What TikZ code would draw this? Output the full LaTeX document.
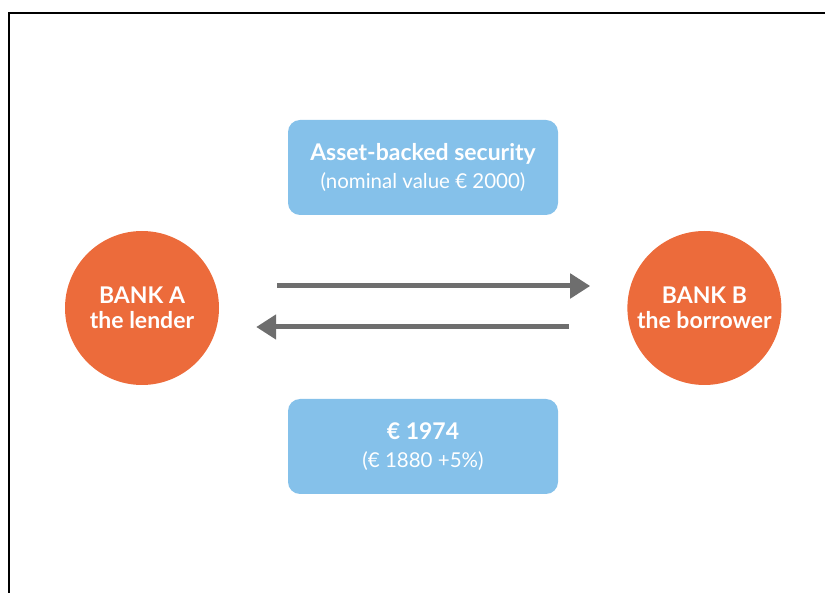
\documentclass[tikz,border=0pt]{standalone}
\usepackage{fontspec}
\setmainfont{Lato}
\usepackage{tikz}
\usetikzlibrary{arrows.meta,positioning}
\usepackage{xcolor}
\definecolor{bankorange}{HTML}{EC6B3B}
\definecolor{boxblue}{HTML}{85C1EA}
\definecolor{arrowgray}{HTML}{6E6E6E}

\begin{document}
\begin{tikzpicture}[x=1pt, y=1pt, >={Triangle[length=20pt,width=24pt]}, every node/.style={align=center, text=white}]
  \useasboundingbox (0,0) rectangle (825,592);
  \draw[line width=2pt] (8.5,-10) |- (840,579);
  \node[circle,fill=bankorange,minimum size=154pt,inner sep=0pt,font=\fontsize{23}{25}\selectfont\bfseries] (a) at (142,284) {BANK A\\the lender};
  \node[circle,fill=bankorange,minimum size=154pt,inner sep=0pt,font=\fontsize{23}{25}\selectfont\bfseries,right=408pt of a] (b) {BANK B\\the borrower};
  \node[rounded corners=12pt,fill=boxblue,minimum width=270pt,minimum height=95pt,font=\fontsize{20}{28}\selectfont] (sec) at (423,424.5) {{\fontsize{23}{28}\selectfont\bfseries Asset-backed security}\\{\fontsize{20.5}{28}\selectfont (nominal value € 2000)}};
  \node[rounded corners=12pt,fill=boxblue,minimum width=270pt,minimum height=95pt,font=\fontsize{20}{28}\selectfont] (cash) at (423,145.5) {{\fontsize{23}{28}\selectfont\bfseries € 1974}\\{\fontsize{20.5}{28}\selectfont (€ 1880 +5\%)}};
  \draw[->,line width=5pt,arrowgray,shorten <=58pt,shorten >=37pt] ([yshift=22pt]a.east) -- ([yshift=22pt]b.west);
  \draw[->,line width=5pt,arrowgray,shorten <=58pt,shorten >=37pt] ([yshift=-19pt]b.west) -- ([yshift=-19pt]a.east);
\end{tikzpicture}
\end{document}
